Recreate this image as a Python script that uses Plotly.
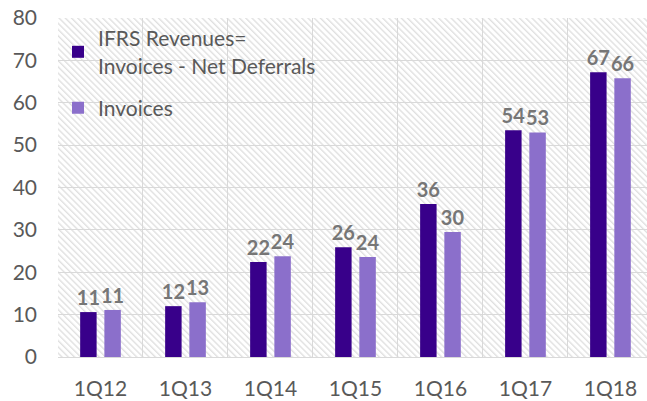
import base64
import plotly.graph_objects as go

categories = ["1Q12", "1Q13", "1Q14", "1Q15", "1Q16", "1Q17", "1Q18"]
ifrs_revenues = [10.6, 12.0, 22.4, 25.9, 36.1, 53.5, 67.2]
invoices = [11.1, 12.9, 23.8, 23.6, 29.5, 53.0, 65.8]
series_names = ["IFRS Revenues=<br>Invoices - Net Deferrals", "Invoices"]
y_ticks = [0, 10, 20, 30, 40, 50, 60, 70, 80]

DARK = "#38008A"
LIGHT = "#8B6FCB"
GRID = "#D9D9D9"
TXT = "#595959"
LBL = "#767676"
FONT = "Lato"

W, H = 647, 401
ML, MR, MT, MB = 58, 0, 18, 44
PW, PH = W - ML - MR, H - MT - MB

svg = (
    f'<svg xmlns="http://www.w3.org/2000/svg" width="{PW}" height="{PH}" viewBox="0 0 {PW} {PH}">'
    '<defs><pattern id="h" width="4.4" height="4.4" patternUnits="userSpaceOnUse" '
    'patternTransform="rotate(-45)"><rect width="1.4" height="4.4" fill="#E0E0E0"/></pattern></defs>'
    '<rect width="100%" height="100%" fill="url(#h)"/></svg>'
)
hatch_src = "data:image/svg+xml;base64," + base64.b64encode(svg.encode()).decode()

fig = go.Figure()
for i, (name, vals, col) in enumerate([(series_names[0], ifrs_revenues, DARK),
                                        (series_names[1], invoices, LIGHT)]):
    fig.add_trace(go.Bar(
        name=name, x=categories, y=vals, legendgroup=f"g{i}",
        marker=dict(color=col, line=dict(width=12, color="rgba(0,0,0,0)")),
        text=[f"{v:.0f}" for v in vals], textposition="outside", cliponaxis=False,
        constraintext="none",
        textfont=dict(family=FONT, size=20, color=LBL, weight="bold"),
        hoverinfo="skip",
    ))

fig.update_layout(
    width=W, height=H,
    margin=dict(l=ML, r=MR, t=MT, b=MB, autoexpand=False),
    paper_bgcolor="white", plot_bgcolor="white",
    barmode="group", bargap=0.43, bargroupgap=0.32,
    font=dict(family=FONT, size=21, color=TXT),
    showlegend=True,
    legend=dict(x=0.0, y=1.0, xanchor="left", yanchor="top",
                bgcolor="rgba(0,0,0,0)", font=dict(family=FONT, size=21, color=TXT),
                tracegroupgap=12, itemwidth=30),
    images=[dict(source=hatch_src, xref="paper", yref="paper", x=0, y=1,
                 sizex=1, sizey=1, xanchor="left", yanchor="top",
                 sizing="stretch", layer="below")],
)
fig.update_xaxes(type="category", tickson="boundaries", showgrid=True, gridcolor=GRID,
                 gridwidth=1, ticks="", showline=False, range=[-0.5, 6.43],
                 tickfont=dict(family=FONT, size=21, color=TXT), ticklabelstandoff=17)
fig.update_yaxes(range=[0, 80], tickvals=y_ticks, showgrid=True, gridcolor=GRID,
                 gridwidth=1, zeroline=True, zerolinecolor=GRID, zerolinewidth=1,
                 ticks="", showline=False,
                 tickfont=dict(family=FONT, size=21, color=TXT), ticklabelstandoff=20)

fig.write_html("out.html", config={"displayModeBar": False},
               post_script="document.body.style.margin='0';")
